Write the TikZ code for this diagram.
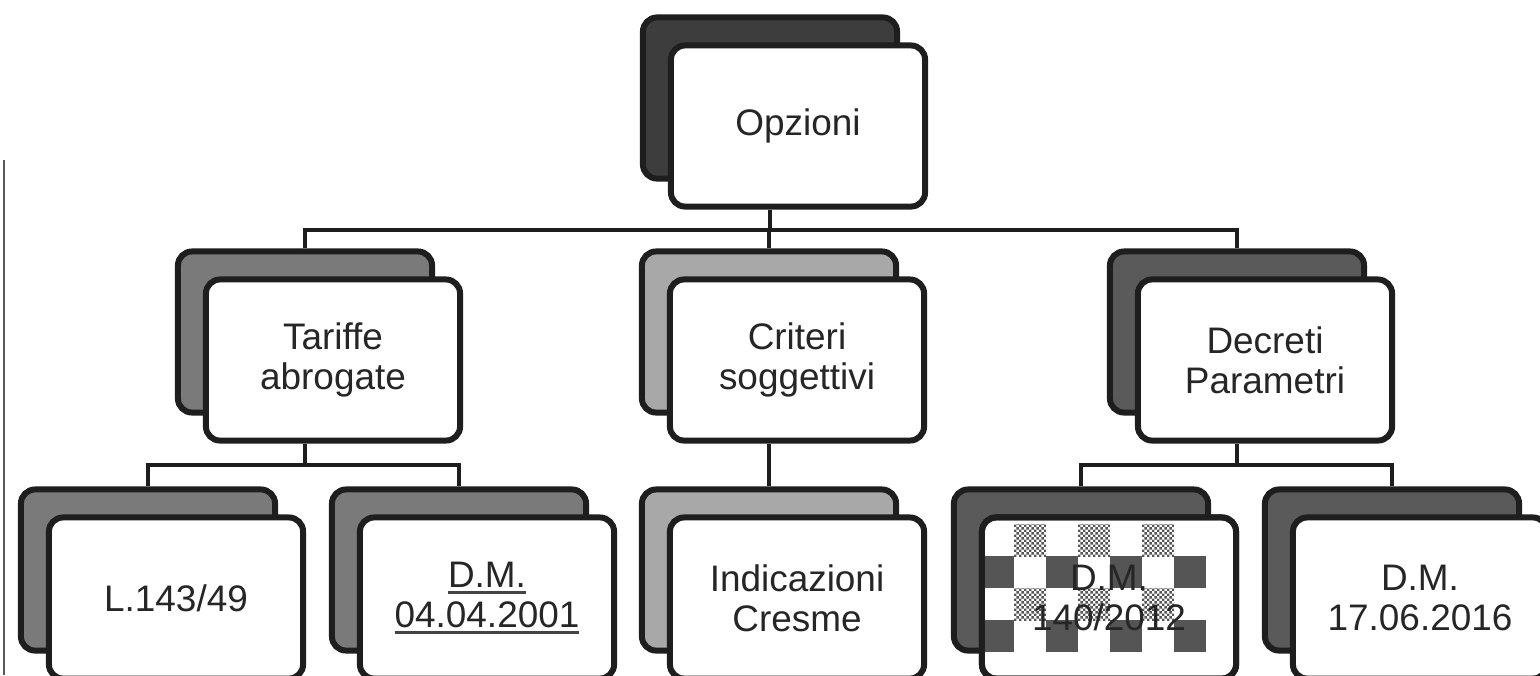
\documentclass[tikz,border=0pt]{standalone}
\usepackage{fontspec}
\setmainfont{Liberation Sans}
\usepackage{xcolor}
\usetikzlibrary{patterns.meta}

\definecolor{edge}{HTML}{1E1E1E}
\definecolor{txt}{HTML}{262626}
\definecolor{uline}{HTML}{444444}
\definecolor{shOpz}{HTML}{3D3D3D}
\definecolor{shMid}{HTML}{7A7A7A}
\definecolor{shLight}{HTML}{A8A8A8}
\definecolor{shDark}{HTML}{5A5A5A}
\definecolor{cell}{HTML}{555555}

\newcommand\ulink[1]{\setbox0\hbox{#1}\rlap{\color{uline}\rule[-2pt]{\wd0}{0.9pt}}\box0}

\tikzdeclarepattern{name=finedots, type=uncolored,
  bounding box={(0pt,0pt) and (1.4pt,1.4pt)}, tile size={(1.4pt,1.4pt)},
  code={\fill (0pt,0pt) rectangle (0.7pt,0.7pt); \fill (0.7pt,0.7pt) rectangle (1.4pt,1.4pt);}}

\tikzset{
  card/.style={rectangle, rounded corners=4pt, draw=edge, line width=1.7pt,
    minimum width=2.54cm, minimum height=1.61cm, inner sep=0pt},
  back/.style={card, fill=#1},
  front/.style={card, fill=white, align=center, text=txt,
    font=\fontsize{10.5}{11.4}\selectfont},
  wire/.style={draw=edge, line width=1.1pt},
}

\begin{document}
\begin{tikzpicture}[x=0.01cm,y=-0.01cm]
\useasboundingbox[fill=white] (0,0) rectangle (1540,675);
\draw[gray!70!black, line width=0.4pt] (4,160)--(4,675);

% top
\node[back=shOpz] (opzB) at (770,98) {};
\node[front] (opz) at (798,126) {Opzioni};

% second row
\node[back=shMid] (tarB) at (305,332) {};
\node[front] (tar) at (333,360) {Tariffe\\abrogate};
\node[back=shLight] (criB) at (769,332) {};
\node[front] (cri) at (797,360) {Criteri\\soggettivi};
\node[back=shDark] (decB) at (1237,332) {};
\node[front] (dec) at (1265,360) {Decreti\\Parametri};

% third row
\node[back=shMid] (l143B) at (148,570) {};
\node[front] (l143) at (176,598) {L.143/49};
\node[back=shMid] (dm01B) at (459,570) {};
\node[front] (dm01) at (487,598) {\ulink{D.M.}\\\ulink{04.04.2001}};
\node[back=shLight] (indB) at (769,570) {};
\node[front] (ind) at (797,598) {Indicazioni\\Cresme};
\node[back=shDark] (dm12B) at (1081,570) {};
\node[front] (dm12) at (1109,598) {};
\begin{scope}
\clip (dm12.south west) rectangle (dm12.north east);
\foreach \c in {1,3,5} \foreach \r in {0,2}
  \fill[pattern=finedots, pattern color=cell] (982+32*\c,524+32*\r) rectangle +(32,32);
\foreach \c in {0,2,4,6} \foreach \r in {1,3}
  \fill[cell] (982+32*\c,524+32*\r) rectangle +(32,32);
\end{scope}
\node[front, fill=none] (dm12t) at (dm12) {D.M.\\140/2012};
\node[back=shDark] (dm16B) at (1392,570) {};
\node[front] (dm16) at (1420,598) {D.M.\\17.06.2016};

% connectors
\coordinate (busA) at (0,230);
\coordinate (busB) at (0,465);
\draw[wire] (opz.south -| opzB)--(busA -| opzB);
\draw[wire] (tarB.north)--(busA -| tarB)--(busA -| decB)--(decB.north);
\draw[wire] (busA -| criB)--(criB.north);
\draw[wire] (tar.south -| tarB)--(busB -| tarB);
\draw[wire] (l143B.north)--(busB -| l143B)--(busB -| dm01B)--(dm01B.north);
\draw[wire] (cri.south -| criB)--(indB.north);
\draw[wire] (dec.south -| decB)--(busB -| decB);
\draw[wire] (dm12B.north)--(busB -| dm12B)--(busB -| dm16B)--(dm16B.north);
\end{tikzpicture}
\end{document}
